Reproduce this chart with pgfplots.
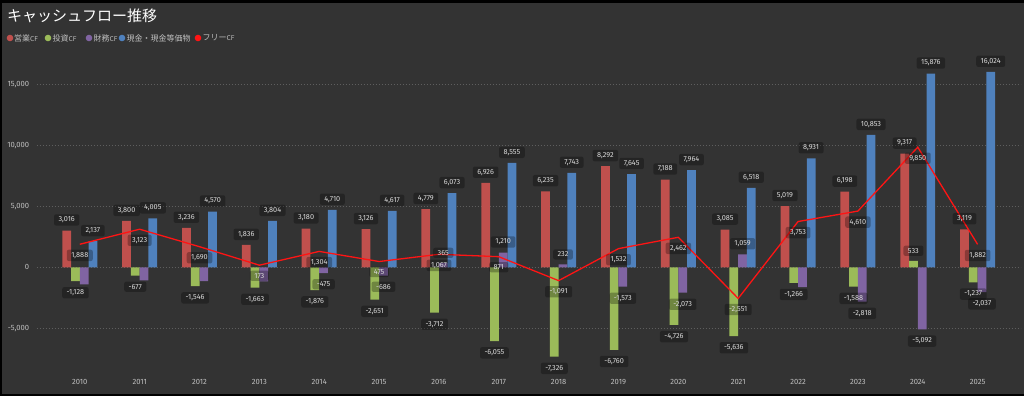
\documentclass[border=0pt]{standalone}
\usepackage{pgfplots}
\pgfplotsset{compat=1.18}
\usepackage{pgfplotstable}
\usepackage{fontspec}
\setmainfont{Fira Sans}
\newfontfamily\jp{Noto Sans CJK JP}
\definecolor{bg}{HTML}{333333}
\definecolor{cop}{HTML}{C0504D}
\definecolor{cinv}{HTML}{9BBB59}
\definecolor{cfin}{HTML}{8064A2}
\definecolor{ccash}{HTML}{4F81BD}
\definecolor{cfree}{HTML}{FF1414}
\definecolor{tickc}{HTML}{BFBFBF}
\definecolor{lblc}{HTML}{DADADA}
\definecolor{gridc}{HTML}{5E5E5E}

\pgfplotstableread{
year op   opl   inv   fin   cash  cashl  free  freel
2010 3016 3,016 -1128 -1400 2137  2,137  1888  1,888
2011 3800 3,800 -677  -1080 4005  4,005  3123  3,123
2012 3236 3,236 -1546 -1130 4570  4,570  1690  1,690
2013 1836 1,836 -1663 -1150 3804  3,804  173   173
2014 3180 3,180 -1876 -475  4710  4,710  1304  1,304
2015 3126 3,126 -2651 -686  4617  4,617  475   475
2016 4779 4,779 -3712 365   6073  6,073  1067  1,067
2017 6926 6,926 -6055 1210  8555  8,555  871   871
2018 6235 6,235 -7326 232   7743  7,743  -1091 -1,091
2019 8292 8,292 -6760 -1573 7645  7,645  1532  1,532
2020 7188 7,188 -4726 -2073 7964  7,964  2462  2,462
2021 3085 3,085 -5636 1059  6518  6,518  -2551 -2,551
2022 5019 5,019 -1266 -1620 8931  8,931  3753  3,753
2023 6198 6,198 -1588 -2818 10853 10,853 4610  4,610
2024 9317 9,317 533   -5092 15876 15,876 9850  9,850
2025 3119 3,119 -1237 -2037 16024 16,024 1882  1,882
}\cf

\pgfplotstableread{
year v l
2010 -1128 -1,128
2011 -677 -677
2012 -1546 -1,546
2013 -1663 -1,663
2014 -1876 -1,876
2015 -2651 -2,651
2016 -3712 -3,712
2017 -6055 -6,055
2018 -7326 -7,326
2019 -6760 -6,760
2020 -4726 -4,726
2021 -5636 -5,636
2022 -1266 -1,266
2023 -1588 -1,588
2025 -1237 -1,237
}\invneg
\pgfplotstableread{
year v l
2024 533 533
}\invpos
\pgfplotstableread{
year v l
2016 365 365
2017 1210 1,210
2018 232 232
2021 1059 1,059
}\finpos
\pgfplotstableread{
year v l
2014 -475 -475
2015 -686 -686
2019 -1573 -1,573
2020 -2073 -2,073
2023 -2818 -2,818
2024 -5092 -5,092
2025 -2037 -2,037
}\finneg

\pgfplotsset{
  lbl/.style={forget plot, draw=none, mark=none, nodes near coords,
    point meta=explicit symbolic,
    nodes near coords style={font=\fontsize{7.3}{8}\selectfont, text=lblc,
      fill=black, fill opacity=0.28, text opacity=1, rounded corners=2pt,
      inner xsep=4.5pt, inner ysep=2.6pt}},
  lblabove/.style={nodes near coords style={anchor=south, yshift=4.7pt}},
  lblbelow/.style={nodes near coords style={anchor=north, yshift=-5.8pt}},
  lblfree/.style={nodes near coords style={anchor=north, yshift=-5.2pt}},
}
\newcommand{\cfs}{{\fontsize{6.6}{8}\selectfont CF}}

\begin{document}
\begin{tikzpicture}[x=1pt,y=1pt]
\fill[black] (0,0) rectangle (1024,396);
\fill[bg] (2,2) rectangle (1024,393);
\useasboundingbox (0,0) rectangle (1024,396);
\begin{axis}[
  at={(36.7pt,25pt)}, anchor=south west, scale only axis,
  width=984pt, height=325.7pt,
  xmin=2009.28, xmax=2025.72, ymin=-8500, ymax=18200,
  scaled ticks=false,
  axis line style={draw=none}, tick style={draw=none}, major tick length=0pt,
  ytick={-5000,0,5000,10000,15000},
  yticklabels={{-5,000},{0},{5,000},{10,000},{15,000}},
  xtick={2010,2011,2012,2013,2014,2015,2016,2017,2018,2019,2020,2021,2022,2023,2024,2025},
  xticklabels={2010,2011,2012,2013,2014,2015,2016,2017,2018,2019,2020,2021,2022,2023,2024,2025},
  ymajorgrids, grid style={gridc, line width=0.7pt, dash pattern=on 0.8pt off 2.2pt},
  ticklabel style={font=\fontsize{7.6}{9}\selectfont, text=tickc},
  yticklabel style={anchor=east, xshift=-4pt},
  xticklabel style={anchor=center, yshift=-10.7pt},
  clip=false,
]
\addplot[ybar, bar width=0.146, bar shift=-0.219, fill=cop, draw=none, forget plot] table[x=year,y=op]{\cf};
\addplot[ybar, bar width=0.146, bar shift=-0.073, fill=cinv, draw=none, forget plot] table[x=year,y=inv]{\cf};
\addplot[ybar, bar width=0.146, bar shift=0.073, fill=cfin, draw=none, forget plot] table[x=year,y=fin]{\cf};
\addplot[ybar, bar width=0.146, bar shift=0.219, fill=ccash, draw=none, forget plot] table[x=year,y=cash]{\cf};
\addplot[cfree, line width=1.3pt, mark=none, forget plot] table[x=year,y=free]{\cf};

\addplot[lbl, lblabove] table[x expr=\thisrow{year}-0.219, y=op, meta=opl]{\cf};
\addplot[lbl, lblabove] table[x expr=\thisrow{year}+0.219, y=cash, meta=cashl]{\cf};
\addplot[lbl, lblbelow] table[x expr=\thisrow{year}-0.073, y=v, meta=l]{\invneg};
\addplot[lbl, lblabove] table[x expr=\thisrow{year}-0.073, y=v, meta=l]{\invpos};
\addplot[lbl, lblabove] table[x expr=\thisrow{year}+0.073, y=v, meta=l]{\finpos};
\addplot[lbl, lblbelow] table[x expr=\thisrow{year}+0.073, y=v, meta=l]{\finneg};
\addplot[lbl, lblfree] table[x=year, y=free, meta=freel]{\cf};
\end{axis}
\node[anchor=west, inner sep=0pt, text=white, font=\jp\fontsize{15}{16}\selectfont] at (7,380) {キャッシュフロー推移};
% legend
\begin{scope}[every node/.style={anchor=west, inner sep=0pt, text=tickc, font=\jp\fontsize{8}{9}\selectfont}]
\fill[cop] (10,358) circle (3.3);   \node at (14,358) {営業\cfs};
\fill[cinv] (48,358) circle (3.3);  \node at (52.5,358) {投資\cfs};
\fill[cfin] (89,358) circle (3.3);  \node at (93.5,358) {財務\cfs};
\fill[ccash] (122,358) circle (3.3); \node at (126.5,358) {現金・現金等価物};
\fill[cfree] (198,358) circle (3.3); \node at (202.5,358) {フリー\cfs};
\end{scope}
\end{tikzpicture}
\end{document}
